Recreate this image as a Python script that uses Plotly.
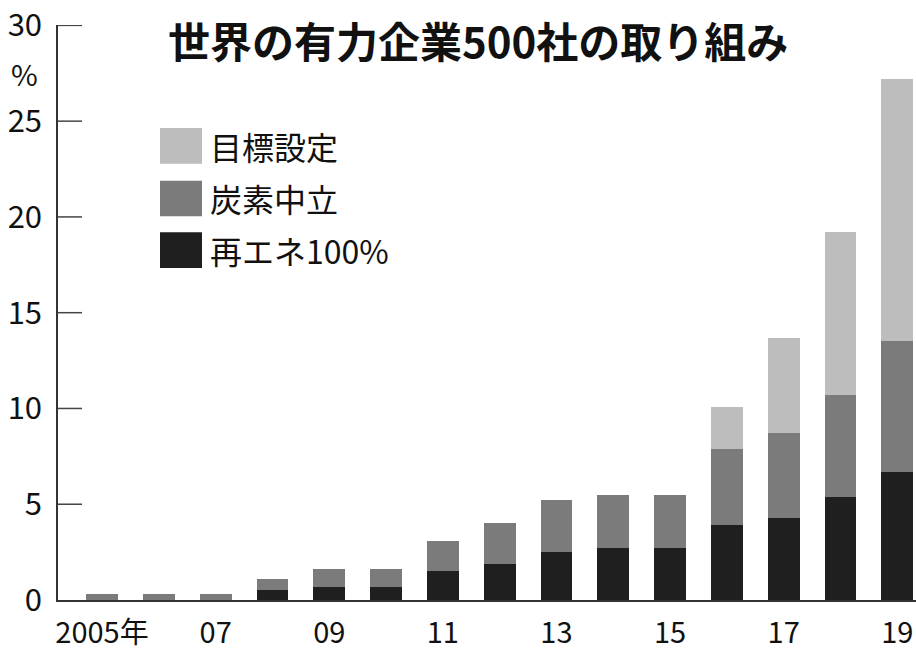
import plotly.graph_objects as go

# Share of the world's 500 leading companies taking each climate commitment (%)
years = list(range(2005, 2020))
renewable_100 = [0.0, 0.0, 0.0, 0.5, 0.7, 0.7, 1.5, 1.9, 2.5, 2.7, 2.7, 3.9, 4.3, 5.4, 6.7]
carbon_neutral = [0.3, 0.3, 0.3, 0.6, 0.9, 0.9, 1.6, 2.1, 2.7, 2.8, 2.8, 4.0, 4.4, 5.3, 6.8]
target_setting = [0.0, 0.0, 0.0, 0.0, 0.0, 0.0, 0.0, 0.0, 0.0, 0.0, 0.0, 2.2, 5.0, 8.5, 13.7]

series_names = ["再エネ100%", "炭素中立", "目標設定"]
series_colors = ["#1f1f1f", "#7b7b7b", "#bdbdbd"]

x_tick_vals = [2005, 2007, 2009, 2011, 2013, 2015, 2017, 2019]
x_tick_text = ["2005年", "07", "09", "11", "13", "15", "17", "19"]
y_tick_vals = [0, 5, 10, 15, 20, 25, 30]

num_font = "Liberation Sans Narrow, Noto Sans CJK JP, sans-serif"
jp_font = "Noto Sans CJK JP, sans-serif"

fig = go.Figure()
for name, vals, col in zip(series_names, [renewable_100, carbon_neutral, target_setting], series_colors):
    fig.add_trace(go.Bar(x=years, y=vals, name=name, marker=dict(color=col, line=dict(width=0)),
                         showlegend=False))

fig.update_layout(
    barmode="stack",
    bargap=0.44,
    width=916, height=651,
    margin=dict(l=58, r=0, t=24, b=47),
    paper_bgcolor="white", plot_bgcolor="white",
    xaxis=dict(range=[2004.225, 2019.33], tickvals=x_tick_vals, ticktext=x_tick_text,
               showgrid=False, zeroline=False, showline=True, linecolor="#333", linewidth=1.5,
               ticks="", tickfont=dict(family=num_font, size=29, color="#111"),
               ticklabelstandoff=6),
    yaxis=dict(range=[0, 30.02], tickvals=y_tick_vals, showgrid=False, zeroline=False,
               showline=True, linecolor="#333", linewidth=1.5, ticks="",
               tickfont=dict(family=num_font, size=31, color="#111"),
               ticklabelstandoff=8, ticklabeloverflow="allow"),
)

plot_top, plot_h = 24, 580
plot_left, plot_w = 58, 858

# Short inward tick marks on the value axis
for v in y_tick_vals[1:]:
    fig.add_shape(type="line", xref="paper", yref="y", x0=0, x1=24 / plot_w, y0=v, y1=v,
                  line=dict(color="#444", width=1.5))

# Title
fig.add_annotation(text="<b>世界の有力企業500社の取り組み</b>", xref="paper", yref="paper",
                   x=(478 - plot_left) / plot_w, y=1 - (39 - plot_top) / plot_h,
                   xanchor="center", yanchor="middle", showarrow=False,
                   font=dict(family=jp_font, size=42, color="#111"))

# Unit label under the top tick
fig.add_annotation(text="%", xref="paper", yref="paper", x=(24 - plot_left) / plot_w,
                   y=1 - (72 - plot_top) / plot_h,
                   xanchor="center", yanchor="middle", showarrow=False,
                   font=dict(family=num_font, size=29, color="#111"))

# Legend: swatches and labels, top to bottom
legend_items = list(zip(series_names, series_colors))[::-1]
legend_centers_px = [146, 199, 251]
for (name, col), cy in zip(legend_items, legend_centers_px):
    y0 = 1 - (cy + 18 - plot_top) / plot_h
    y1 = 1 - (cy - 18 - plot_top) / plot_h
    fig.add_shape(type="rect", xref="paper", yref="paper",
                  x0=(160 - plot_left) / plot_w, x1=(202 - plot_left) / plot_w,
                  y0=y0, y1=y1, fillcolor=col, line=dict(width=0))
    fig.add_annotation(text=name, xref="paper", yref="paper",
                       x=(208 - plot_left) / plot_w, y=1 - (cy - plot_top) / plot_h,
                       xanchor="left", yanchor="middle", showarrow=False,
                       font=dict(family=jp_font, size=32, color="#111"))

fig.write_html("out.html")
